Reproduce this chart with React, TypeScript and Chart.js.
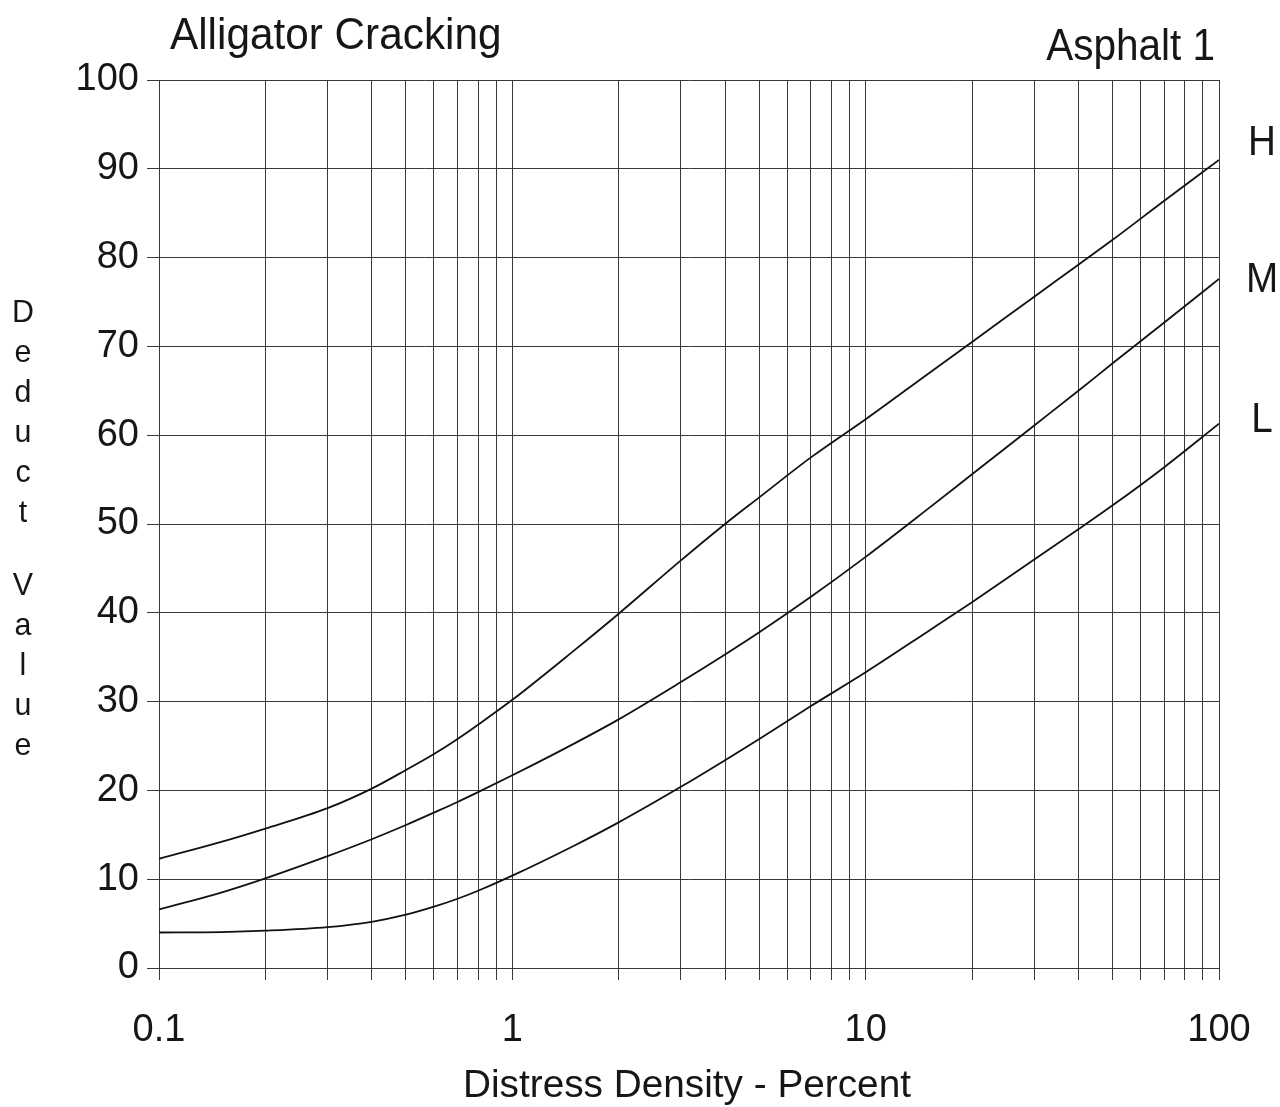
import React, { useEffect, useRef } from "react";
import { Chart, registerables } from "chart.js";

Chart.register(...registerables);

// Distress density (percent) sample points along each curve
const density = [0.1, 0.15, 0.2, 0.3, 0.4, 0.5, 0.6, 0.7, 0.8, 1, 1.5, 2, 3, 4, 5, 7, 10, 15, 20, 30, 40, 50, 70, 100];

// Deduct values per severity level
const highSeverity = [12.3, 14.2, 15.7, 18, 20.2, 22.3, 24.1, 25.8, 27.4, 30.2, 35.8, 39.9, 45.9, 50, 53, 57.5, 61.8, 66.9, 70.5, 75.6, 79.2, 82, 86.4, 91];
const mediumSeverity = [6.6, 8.5, 10.1, 12.6, 14.5, 16.1, 17.5, 18.7, 19.8, 21.7, 25.3, 28, 32.2, 35.3, 37.8, 41.8, 46.3, 51.7, 55.6, 61.1, 65, 68.1, 72.7, 77.6];
const lowSeverity = [4, 4.05, 4.2, 4.6, 5.2, 6, 6.9, 7.8, 8.7, 10.4, 13.8, 16.4, 20.4, 23.4, 25.8, 29.5, 33.3, 37.9, 41.2, 46, 49.4, 52.1, 56.4, 61.3];

const severityLabels = ["H", "M", "L"];

// Log grid lines and the decades that carry a label
const xGridValues = [
  0.1, 0.2, 0.3, 0.4, 0.5, 0.6, 0.7, 0.8, 0.9,
  1, 2, 3, 4, 5, 6, 7, 8, 9,
  10, 20, 30, 40, 50, 60, 70, 80, 90, 100,
];
const xTickLabels: Record<string, string> = { "0.1": "0.1", "1": "1", "10": "10", "100": "100" };

const chartTitle = "Alligator Cracking";
const chartSubtitle = "Asphalt 1";
const xAxisTitle = "Distress Density - Percent";
const yAxisTitleWords = ["Deduct", "Value"];

const FONT = '"Liberation Sans", Arial, sans-serif';
const INK = "#161616";

function drawText(
  ctx: CanvasRenderingContext2D,
  text: string,
  x: number,
  y: number,
  size: number,
  align: CanvasTextAlign,
  sx = 1
) {
  ctx.save();
  ctx.translate(x, y);
  ctx.scale(sx, 1);
  ctx.font = `${size}px ${FONT}`;
  ctx.textAlign = align;
  ctx.textBaseline = "alphabetic";
  ctx.fillStyle = INK;
  ctx.fillText(text, 0, 0);
  ctx.restore();
}

const annotationPlugin = {
  id: "deductAnnotations",
  afterDraw(chart: any) {
    const ctx: CanvasRenderingContext2D = chart.ctx;
    const y = chart.scales.y;
    const area = chart.chartArea;

    drawText(ctx, chartTitle, 170, 49, 45, "left", 0.94);
    drawText(ctx, chartSubtitle, area.right - 4, 60, 45, "right", 0.9);
    drawText(ctx, xAxisTitle, (area.left + area.right) / 2 - 2, 1097, 38, "center", 1.02);

    // stacked vertical axis title
    let cy = 322;
    yAxisTitleWords.forEach((word, wi) => {
      for (const ch of word) {
        drawText(ctx, ch, 23, cy, 32, "center", 0.95);
        cy += 40;
      }
      if (wi === 0) cy += 33;
    });

    // severity labels to the right of each curve end
    const ends = [highSeverity, mediumSeverity, lowSeverity];
    const offsets = [-5, 13, 8];
    severityLabels.forEach((lab, i) => {
      const last = ends[i][ends[i].length - 1];
      const py = y.getPixelForValue(last) + offsets[i];
      drawText(ctx, lab, 1262, py, 42, "center", 0.92);
    });
  },
};

export default function App() {
  const canvasRef = useRef<HTMLCanvasElement | null>(null);

  useEffect(() => {
    const canvas = canvasRef.current;
    if (!canvas) return;
    const mk = (label: string, vals: number[]) => ({
      label,
      data: density.map((d, i) => ({ x: d, y: vals[i] })),
      borderColor: "#111",
      borderWidth: 1.8,
      pointRadius: 0,
      fill: false,
      cubicInterpolationMode: "monotone" as const,
    });
    const chart = new Chart(canvas, {
      type: "line",
      data: {
        datasets: [
          mk(severityLabels[0], highSeverity),
          mk(severityLabels[1], mediumSeverity),
          mk(severityLabels[2], lowSeverity),
        ],
      },
      options: {
        responsive: false,
        animation: false,
        devicePixelRatio: 1,
        layout: { padding: { top: 80, right: 61, bottom: 0, left: 0 } },
        plugins: { legend: { display: false }, tooltip: { enabled: false } },
        scales: {
          x: {
            type: "logarithmic",
            min: 0.1,
            max: 100,
            afterBuildTicks: (scale: any) => {
              scale.ticks = xGridValues.map((v) => ({ value: v }));
            },
            afterFit: (scale: any) => {
              scale.height = 139;
            },
            ticks: {
              autoSkip: false,
              maxRotation: 0,
              minRotation: 0,
              padding: 28,
              color: INK,
              font: { family: FONT, size: 38 },
              callback: (v: any) => xTickLabels[String(Number(v))] ?? "",
            },
            grid: { color: "#3a3a3a", lineWidth: 1, tickLength: 12, drawTicks: true },
            border: { display: true, color: "#3a3a3a", width: 1 },
          },
          y: {
            min: 0,
            max: 100,
            afterFit: (scale: any) => {
              scale.width = 159;
            },
            ticks: {
              stepSize: 10,
              padding: 8,
              color: INK,
              font: { family: FONT, size: 38 },
            },
            grid: { color: "#3a3a3a", lineWidth: 1, tickLength: 12, drawTicks: true },
            border: { display: true, color: "#3a3a3a", width: 1 },
          },
        },
      },
      plugins: [annotationPlugin],
    });
    return () => chart.destroy();
  }, []);

  return (
    <div style={{ position: "absolute", left: 0, top: 0, width: 1280, height: 1107, background: "#fff" }}>
      <canvas ref={canvasRef} width={1280} height={1107} style={{ display: "block" }} />
    </div>
  );
}
